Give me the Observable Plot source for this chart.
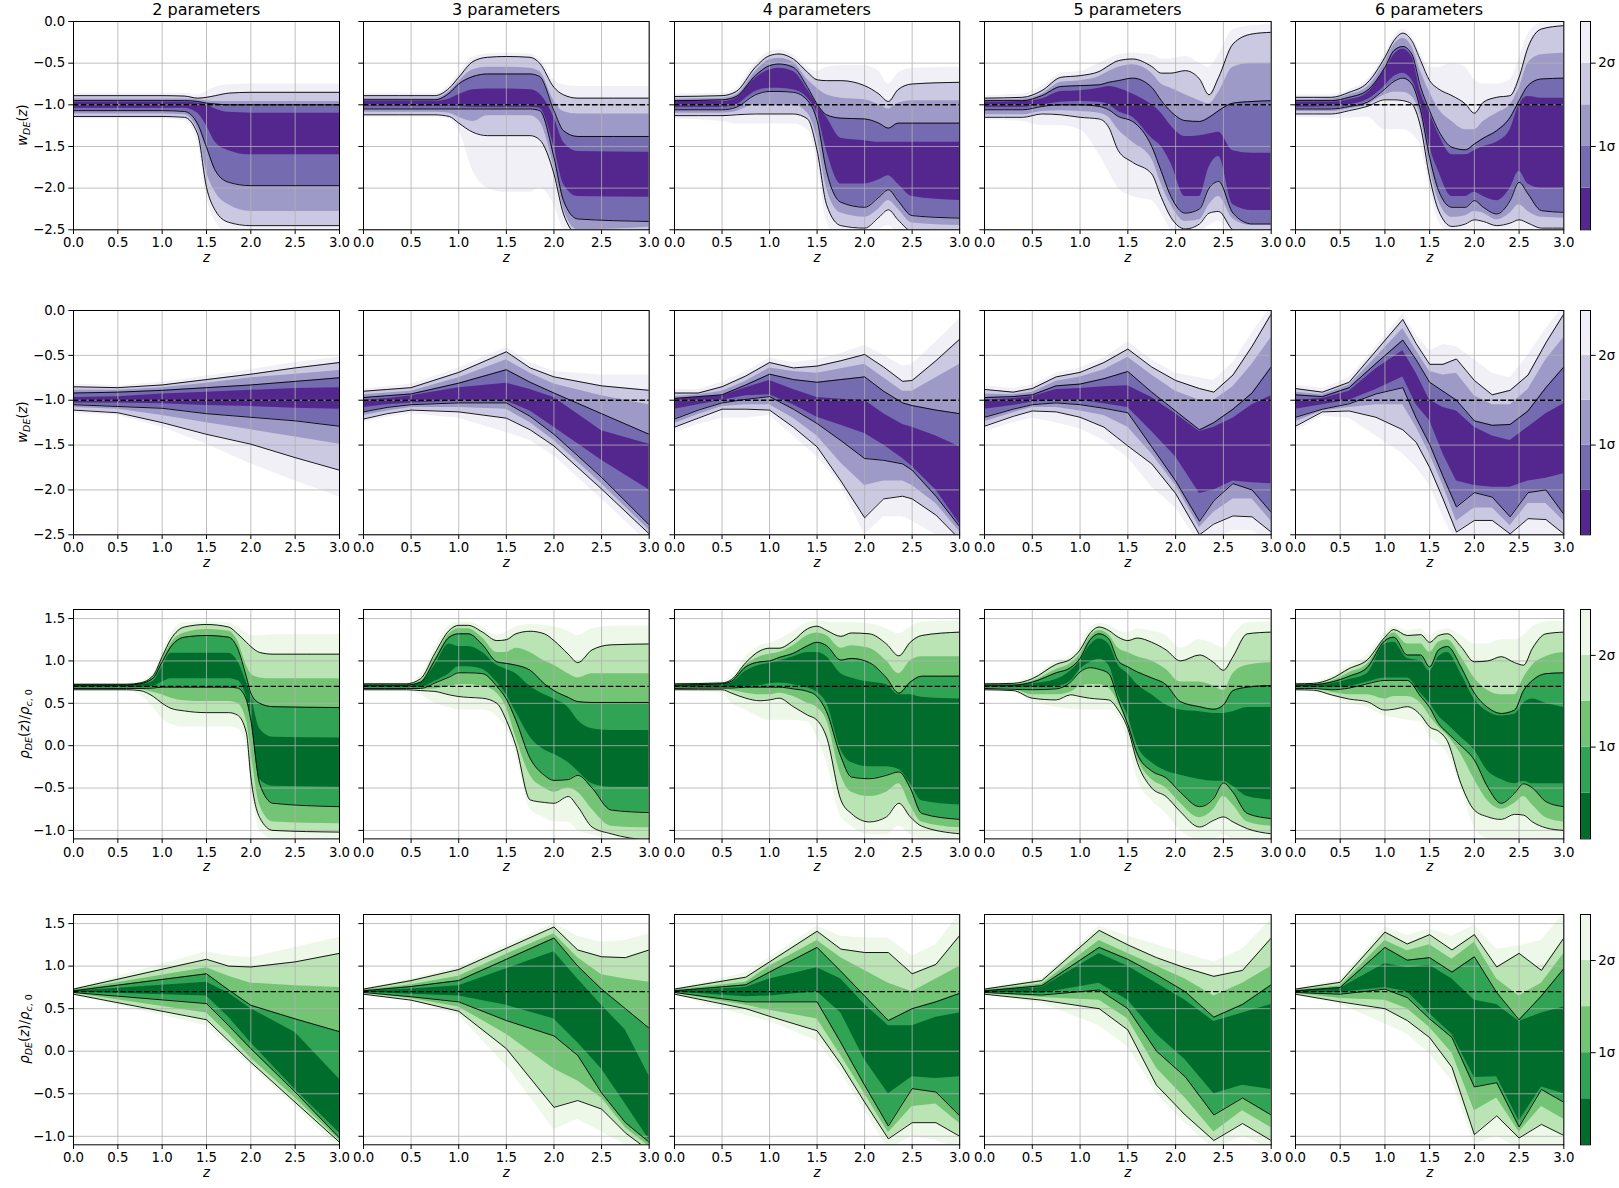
<!DOCTYPE html>
<html><head><meta charset="utf-8">
<script src="https://cdn.jsdelivr.net/npm/d3@7"></script>
<script src="https://cdn.jsdelivr.net/npm/@observablehq/plot@0.6"></script>
<style>
body{margin:0;background:#fff;}
#fig{position:relative;width:1619px;height:1188px;font-family:"DejaVu Sans",sans-serif;color:#000;overflow:hidden;}
.pos{position:absolute;}
.pos svg{max-width:none !important;}
.title{font-size:16px;white-space:nowrap;transform:translate(-50%,-50%);}
.ylab{font-size:13.33px;white-space:nowrap;transform:translate(-50%,-50%) rotate(-90deg);}
.ylab sub{font-size:9.5px;vertical-align:-3px;}
</style>
</head><body><div id="fig"></div>
<script>
// ---------------- data ----------------
const paramCounts = [2, 3, 4, 5, 6];
const zTicks = [0, 0.5, 1, 1.5, 2, 2.5, 3];
const wTicks = [0, -0.5, -1, -1.5, -2, -2.5];
const rhoTicks = [1.5, 1, 0.5, 0, -0.5, -1];
const sigmaLevels = [0, 0.5, 1, 1.5, 2, 2.5];
const sigmaTicks = [1, 2];
const wReference = -1;
const rhoReference = 0.7;
const purples = ["#54278f", "#756bb1", "#9e9ac8", "#cbc9e2", "#f2f0f7"];
const greens = ["#006d2c", "#31a354", "#74c476", "#bae4b3", "#edf8e9"];

// rows: [z, lo2.5σ, lo2σ, lo1.5σ, lo1σ, lo0.5σ, hi0.5σ, hi1σ, hi1.5σ, hi2σ, hi2.5σ]
const wStep2 = [
[0,-1.17,-1.14,-1.11,-1.07,-1.04,-0.97,-0.95,-0.93,-0.89,-0.86],
[1.0,-1.17,-1.14,-1.11,-1.07,-1.04,-0.97,-0.95,-0.93,-0.89,-0.86],
[1.25,-1.19,-1.15,-1.12,-1.08,-1.04,-0.97,-0.95,-0.93,-0.895,-0.86],
[1.4,-1.45,-1.35,-1.3,-1.23,-1.1,-0.98,-0.96,-0.94,-0.92,-0.88],
[1.5,-2.1,-1.99,-1.8,-1.51,-1.25,-1.0,-0.98,-0.95,-0.91,-0.84],
[1.6,-2.4,-2.27,-2.05,-1.79,-1.45,-1.05,-0.99,-0.96,-0.89,-0.79],
[1.75,-2.55,-2.41,-2.2,-1.93,-1.55,-1.09,-1.0,-0.96,-0.86,-0.76],
[2.0,-2.6,-2.45,-2.28,-1.97,-1.6,-1.1,-1.0,-0.96,-0.85,-0.75],
[3.0,-2.6,-2.45,-2.28,-1.97,-1.6,-1.1,-1.0,-0.96,-0.85,-0.75]];
const wStep3 = [
[0,-1.15,-1.12,-1.09,-1.05,-1.02,-0.96,-0.94,-0.92,-0.89,-0.86],
[0.75,-1.15,-1.12,-1.09,-1.05,-1.02,-0.96,-0.94,-0.92,-0.89,-0.86],
[0.9,-1.17,-1.14,-1.1,-1.05,-1.02,-0.93,-0.86,-0.84,-0.8,-0.76],
[1.0,-1.3,-1.22,-1.15,-1.05,-1.02,-0.88,-0.75,-0.72,-0.67,-0.62],
[1.15,-1.8,-1.33,-1.2,-1.05,-1.03,-0.82,-0.66,-0.58,-0.48,-0.43],
[1.3,-2.0,-1.37,-1.13,-1.05,-1.03,-0.81,-0.63,-0.55,-0.43,-0.39],
[1.5,-2.05,-1.37,-1.13,-1.05,-1.03,-0.81,-0.63,-0.55,-0.42,-0.38],
[1.75,-2.05,-1.37,-1.13,-1.05,-1.03,-0.82,-0.63,-0.56,-0.43,-0.39],
[1.85,-2.0,-1.42,-1.2,-1.07,-1.04,-0.87,-0.66,-0.6,-0.5,-0.45],
[2.0,-2.2,-1.83,-1.75,-1.63,-1.5,-1.15,-1.07,-0.95,-0.79,-0.7],
[2.1,-2.5,-2.31,-2.25,-2.15,-1.95,-1.45,-1.31,-1.08,-0.88,-0.76],
[2.25,-2.6,-2.55,-2.5,-2.37,-2.1,-1.56,-1.38,-1.11,-0.92,-0.78],
[3.0,-2.6,-2.55,-2.47,-2.4,-2.11,-1.57,-1.38,-1.11,-0.92,-0.78]];
const wStep4 = [
[0,-1.17,-1.13,-1.1,-1.06,-1.03,-0.96,-0.95,-0.93,-0.9,-0.87],
[0.5,-1.2,-1.13,-1.1,-1.06,-1.03,-0.96,-0.94,-0.92,-0.89,-0.86],
[0.65,-1.23,-1.12,-1.08,-1.03,-1.0,-0.92,-0.9,-0.88,-0.84,-0.8],
[0.85,-1.23,-1.11,-1.0,-0.88,-0.84,-0.68,-0.65,-0.6,-0.55,-0.5],
[1.0,-1.23,-1.11,-1.0,-0.84,-0.8,-0.58,-0.53,-0.46,-0.41,-0.36],
[1.1,-1.23,-1.11,-1.0,-0.84,-0.8,-0.56,-0.51,-0.44,-0.39,-0.34],
[1.25,-1.23,-1.11,-1.0,-0.85,-0.82,-0.6,-0.55,-0.49,-0.45,-0.4],
[1.4,-1.3,-1.17,-1.1,-0.95,-0.92,-0.82,-0.79,-0.7,-0.61,-0.55],
[1.5,-1.7,-1.55,-1.4,-1.19,-1.1,-1.0,-0.99,-0.8,-0.7,-0.6],
[1.6,-2.4,-2.2,-2.0,-1.8,-1.55,-1.15,-1.12,-0.88,-0.71,-0.55],
[1.75,-2.6,-2.45,-2.3,-2.17,-1.95,-1.4,-1.16,-0.92,-0.71,-0.53],
[2.0,-2.6,-2.48,-2.35,-2.23,-1.95,-1.43,-1.17,-0.94,-0.77,-0.53],
[2.15,-2.5,-2.35,-2.25,-2.11,-1.9,-1.45,-1.22,-1.0,-0.87,-0.6],
[2.25,-2.45,-2.26,-2.15,-2.02,-1.85,-1.45,-1.28,-1.05,-0.96,-0.75],
[2.35,-2.55,-2.38,-2.25,-2.15,-1.95,-1.45,-1.22,-0.98,-0.82,-0.62],
[2.5,-2.6,-2.52,-2.42,-2.33,-2.1,-1.45,-1.22,-0.95,-0.75,-0.56],
[3.0,-2.6,-2.55,-2.45,-2.36,-2.15,-1.45,-1.22,-0.95,-0.73,-0.55]];
const wStep5 = [
[0,-1.18,-1.15,-1.12,-1.06,-1.03,-0.97,-0.95,-0.94,-0.92,-0.89],
[0.4,-1.2,-1.15,-1.12,-1.06,-1.03,-0.96,-0.95,-0.93,-0.91,-0.87],
[0.6,-1.25,-1.11,-1.08,-1.02,-1.0,-0.93,-0.89,-0.87,-0.83,-0.78],
[0.8,-1.25,-1.12,-1.07,-1.0,-0.97,-0.84,-0.78,-0.73,-0.67,-0.62],
[1.0,-1.3,-1.15,-1.08,-1.0,-0.96,-0.83,-0.77,-0.71,-0.65,-0.6],
[1.2,-1.6,-1.17,-1.1,-1.02,-0.97,-0.8,-0.76,-0.66,-0.6,-0.5],
[1.3,-1.8,-1.27,-1.15,-1.06,-1.0,-0.78,-0.73,-0.6,-0.53,-0.45],
[1.4,-2.0,-1.55,-1.3,-1.14,-1.08,-0.8,-0.71,-0.55,-0.47,-0.4],
[1.55,-2.1,-1.69,-1.45,-1.2,-1.15,-0.87,-0.68,-0.52,-0.45,-0.38],
[1.75,-2.15,-1.83,-1.65,-1.5,-1.4,-1.0,-0.79,-0.62,-0.54,-0.4],
[1.85,-2.3,-2.11,-1.95,-1.8,-1.5,-1.1,-0.95,-0.75,-0.62,-0.45],
[1.95,-2.5,-2.35,-2.2,-2.1,-1.7,-1.25,-1.08,-0.8,-0.62,-0.45],
[2.1,-2.6,-2.49,-2.4,-2.3,-2.1,-1.38,-1.19,-0.88,-0.59,-0.42],
[2.25,-2.55,-2.43,-2.38,-2.25,-2.1,-1.37,-1.2,-0.95,-0.69,-0.5],
[2.35,-2.45,-2.3,-2.2,-2.0,-1.75,-1.35,-1.15,-0.99,-0.88,-0.55],
[2.45,-2.4,-2.28,-2.1,-1.92,-1.62,-1.33,-1.07,-0.85,-0.67,-0.4],
[2.6,-2.6,-2.5,-2.37,-2.3,-2.2,-1.55,-0.98,-0.55,-0.27,-0.1],
[2.8,-2.65,-2.55,-2.45,-2.43,-2.27,-1.58,-0.96,-0.5,-0.15,-0.05],
[3.0,-2.65,-2.55,-2.45,-2.43,-2.27,-1.58,-0.95,-0.5,-0.13,-0.04]];
const wStep6 = [
[0,-1.15,-1.11,-1.08,-1.05,-1.03,-0.97,-0.95,-0.94,-0.91,-0.88],
[0.4,-1.16,-1.11,-1.08,-1.05,-1.02,-0.97,-0.95,-0.93,-0.91,-0.88],
[0.6,-1.16,-1.07,-1.05,-1.02,-1.0,-0.94,-0.91,-0.88,-0.85,-0.82],
[0.8,-1.15,-1.02,-1.0,-0.97,-0.94,-0.86,-0.83,-0.79,-0.74,-0.7],
[1.0,-1.3,-0.94,-0.88,-0.81,-0.77,-0.58,-0.55,-0.48,-0.43,-0.38],
[1.1,-1.3,-0.94,-0.85,-0.72,-0.66,-0.4,-0.35,-0.28,-0.23,-0.18],
[1.2,-1.3,-0.95,-0.85,-0.68,-0.62,-0.33,-0.3,-0.2,-0.14,-0.09],
[1.3,-1.35,-0.99,-0.9,-0.75,-0.7,-0.42,-0.39,-0.3,-0.23,-0.17],
[1.4,-1.5,-1.27,-1.15,-1.07,-1.0,-0.85,-0.79,-0.6,-0.47,-0.38],
[1.5,-2.0,-1.87,-1.75,-1.63,-1.5,-1.1,-1.07,-0.85,-0.71,-0.55],
[1.6,-2.4,-2.27,-2.15,-2.03,-1.8,-1.35,-1.31,-1.05,-0.81,-0.55],
[1.75,-2.55,-2.46,-2.35,-2.23,-2.1,-1.6,-1.51,-1.2,-0.89,-0.5],
[1.9,-2.55,-2.43,-2.33,-2.23,-2.1,-1.6,-1.54,-1.3,-0.99,-0.55],
[2.0,-2.5,-2.38,-2.28,-2.15,-2.05,-1.55,-1.47,-1.3,-1.1,-0.7],
[2.1,-2.5,-2.4,-2.3,-2.23,-2.1,-1.5,-1.4,-1.2,-0.97,-0.75],
[2.25,-2.55,-2.45,-2.38,-2.31,-2.15,-1.45,-1.31,-1.1,-0.91,-0.75],
[2.4,-2.55,-2.42,-2.3,-2.15,-2.0,-1.3,-1.15,-1.0,-0.89,-0.7],
[2.5,-2.5,-2.38,-2.2,-1.93,-1.8,-1.0,-0.95,-0.8,-0.67,-0.45],
[2.6,-2.55,-2.42,-2.28,-2.07,-1.95,-0.9,-0.77,-0.5,-0.31,-0.15],
[2.75,-2.6,-2.48,-2.35,-2.27,-2.0,-0.92,-0.69,-0.4,-0.09,-0.02],
[3.0,-2.6,-2.48,-2.36,-2.29,-2.0,-0.92,-0.68,-0.38,-0.05,0]];

const wLinear2 = [
[0,-1.15,-1.11,-1.08,-1.05,-1.03,-0.97,-0.92,-0.89,-0.85,-0.82],
[0.5,-1.17,-1.14,-1.1,-1.07,-1.03,-0.96,-0.91,-0.89,-0.86,-0.84],
[1.0,-1.3,-1.25,-1.17,-1.09,-1.04,-0.93,-0.89,-0.86,-0.83,-0.8],
[1.5,-1.49,-1.38,-1.25,-1.15,-1.06,-0.91,-0.86,-0.81,-0.77,-0.73],
[2.0,-1.71,-1.49,-1.33,-1.19,-1.07,-0.89,-0.83,-0.75,-0.71,-0.66],
[2.5,-1.9,-1.64,-1.41,-1.23,-1.09,-0.87,-0.79,-0.71,-0.64,-0.58],
[3.0,-2.08,-1.78,-1.49,-1.29,-1.1,-0.86,-0.75,-0.67,-0.58,-0.52]];
const wLinear3 = [
[0,-1.25,-1.21,-1.17,-1.13,-1.08,-1.0,-0.97,-0.94,-0.9,-0.87],
[0.25,-1.19,-1.15,-1.12,-1.08,-1.05,-0.98,-0.95,-0.92,-0.88,-0.85],
[0.5,-1.15,-1.11,-1.08,-1.05,-1.03,-0.95,-0.93,-0.9,-0.86,-0.82],
[1.0,-1.2,-1.13,-1.08,-1.03,-1.01,-0.86,-0.81,-0.75,-0.69,-0.64],
[1.5,-1.36,-1.2,-1.1,-1.03,-1.01,-0.81,-0.66,-0.55,-0.46,-0.41],
[1.75,-1.45,-1.33,-1.25,-1.18,-1.12,-0.88,-0.8,-0.7,-0.64,-0.58],
[2.0,-1.62,-1.51,-1.45,-1.38,-1.3,-0.97,-0.92,-0.82,-0.74,-0.68],
[2.5,-2.1,-1.99,-1.93,-1.86,-1.67,-1.34,-1.15,-0.95,-0.84,-0.72],
[3.0,-2.6,-2.49,-2.45,-2.39,-2.0,-1.49,-1.38,-1.05,-0.89,-0.72]];
const wLinear4 = [
[0,-1.36,-1.3,-1.26,-1.21,-1.1,-0.99,-0.98,-0.96,-0.92,-0.88],
[0.25,-1.27,-1.2,-1.16,-1.11,-1.05,-0.97,-0.96,-0.94,-0.92,-0.88],
[0.5,-1.2,-1.1,-1.07,-1.03,-1.0,-0.95,-0.94,-0.9,-0.85,-0.8],
[0.75,-1.2,-1.1,-1.05,-0.99,-0.95,-0.86,-0.83,-0.79,-0.73,-0.68],
[1.0,-1.17,-1.11,-1.05,-0.96,-0.94,-0.78,-0.71,-0.64,-0.58,-0.53],
[1.25,-1.4,-1.3,-1.2,-1.1,-1.05,-0.88,-0.77,-0.68,-0.64,-0.58],
[1.5,-1.63,-1.52,-1.4,-1.26,-1.19,-0.97,-0.8,-0.7,-0.62,-0.55],
[1.75,-1.95,-1.9,-1.7,-1.45,-1.28,-0.99,-0.77,-0.65,-0.56,-0.48],
[2.0,-2.5,-2.31,-1.95,-1.65,-1.37,-1.0,-0.74,-0.6,-0.49,-0.39],
[2.2,-2.3,-2.1,-1.9,-1.67,-1.5,-1.15,-0.9,-0.75,-0.63,-0.5],
[2.4,-2.3,-2.07,-1.9,-1.71,-1.65,-1.27,-1.03,-0.9,-0.79,-0.62],
[2.5,-2.35,-2.1,-1.95,-1.78,-1.74,-1.3,-1.06,-0.9,-0.78,-0.6],
[2.75,-2.5,-2.28,-2.15,-2.07,-2.0,-1.4,-1.11,-0.75,-0.56,-0.35],
[3.0,-2.65,-2.55,-2.47,-2.41,-2.38,-1.52,-1.15,-0.6,-0.32,-0.09]];
const wLinear5 = [
[0,-1.35,-1.29,-1.24,-1.19,-1.1,-1.0,-0.97,-0.93,-0.88,-0.84],
[0.3,-1.25,-1.18,-1.14,-1.1,-1.06,-0.98,-0.96,-0.94,-0.91,-0.87],
[0.5,-1.2,-1.12,-1.08,-1.05,-1.02,-0.96,-0.94,-0.91,-0.87,-0.83],
[0.75,-1.25,-1.13,-1.08,-1.03,-1.0,-0.88,-0.84,-0.79,-0.74,-0.7],
[1.0,-1.32,-1.19,-1.12,-1.05,-1.0,-0.87,-0.82,-0.74,-0.69,-0.64],
[1.25,-1.45,-1.3,-1.17,-1.09,-1.04,-0.85,-0.76,-0.66,-0.58,-0.53],
[1.5,-1.64,-1.51,-1.3,-1.14,-1.08,-0.84,-0.68,-0.52,-0.43,-0.35],
[1.75,-1.97,-1.71,-1.6,-1.52,-1.35,-0.97,-0.91,-0.72,-0.63,-0.55],
[2.0,-2.2,-2.04,-1.95,-1.9,-1.63,-1.15,-1.12,-0.9,-0.78,-0.7],
[2.25,-2.6,-2.5,-2.42,-2.35,-2.04,-1.35,-1.33,-1.0,-0.87,-0.75],
[2.4,-2.55,-2.38,-2.25,-2.12,-2.0,-1.3,-1.25,-1.0,-0.91,-0.78],
[2.6,-2.45,-2.29,-2.1,-1.93,-1.9,-1.2,-1.1,-0.85,-0.72,-0.58],
[2.8,-2.45,-2.3,-2.1,-2.0,-1.92,-1.05,-0.92,-0.6,-0.4,-0.25],
[3.0,-2.6,-2.47,-2.35,-2.25,-1.93,-0.95,-0.63,-0.3,-0.04,0.05]];
const wLinear6 = [
[0,-1.35,-1.29,-1.24,-1.19,-1.1,-1.0,-0.94,-0.91,-0.87,-0.83],
[0.3,-1.18,-1.13,-1.12,-1.1,-1.05,-0.98,-0.96,-0.94,-0.91,-0.87],
[0.6,-1.2,-1.12,-1.08,-1.04,-1.0,-0.9,-0.86,-0.83,-0.8,-0.75],
[0.9,-1.4,-1.19,-1.05,-0.93,-0.88,-0.65,-0.59,-0.52,-0.45,-0.4],
[1.2,-1.6,-1.33,-1.05,-0.86,-0.74,-0.45,-0.33,-0.2,-0.1,-0.04],
[1.35,-1.75,-1.47,-1.3,-1.2,-1.05,-0.7,-0.55,-0.45,-0.37,-0.28],
[1.5,-1.95,-1.75,-1.6,-1.49,-1.23,-1.0,-0.8,-0.68,-0.6,-0.45],
[1.65,-2.3,-2.1,-1.95,-1.85,-1.6,-1.08,-0.9,-0.72,-0.6,-0.38],
[1.8,-2.6,-2.47,-2.35,-2.19,-1.9,-1.12,-1.0,-0.7,-0.54,-0.4],
[2.0,-2.5,-2.34,-2.2,-2.03,-1.95,-1.3,-1.23,-0.95,-0.78,-0.55],
[2.2,-2.5,-2.34,-2.2,-2.08,-1.97,-1.4,-1.28,-1.05,-0.94,-0.7],
[2.4,-2.6,-2.49,-2.4,-2.3,-1.97,-1.45,-1.27,-1.05,-0.89,-0.75],
[2.6,-2.5,-2.32,-2.15,-2.03,-1.9,-1.3,-1.12,-0.88,-0.72,-0.5],
[2.8,-2.5,-2.33,-2.15,-2.0,-1.87,-1.15,-0.86,-0.55,-0.36,-0.2],
[3.0,-2.6,-2.49,-2.35,-2.27,-1.82,-1.04,-0.63,-0.3,-0.04,0.05]];

const rhoStep2 = [
[0,0.645,0.66,0.665,0.675,0.69,0.71,0.715,0.72,0.725,0.735],
[0.6,0.645,0.66,0.665,0.675,0.69,0.71,0.715,0.72,0.725,0.735],
[0.75,0.6,0.65,0.66,0.675,0.69,0.72,0.73,0.735,0.74,0.76],
[0.9,0.45,0.58,0.63,0.68,0.7,0.76,0.8,0.81,0.83,0.86],
[1.0,0.32,0.5,0.6,0.69,0.75,0.93,0.99,1.02,1.05,1.1],
[1.1,0.25,0.44,0.56,0.69,0.79,1.09,1.17,1.21,1.26,1.32],
[1.25,0.22,0.41,0.53,0.69,0.79,1.09,1.28,1.33,1.4,1.45],
[1.5,0.22,0.39,0.52,0.69,0.79,1.09,1.3,1.37,1.43,1.46],
[1.75,0.22,0.39,0.52,0.69,0.79,1.09,1.28,1.35,1.4,1.45],
[1.85,0.2,0.36,0.5,0.68,0.77,1.0,1.15,1.24,1.32,1.4],
[1.95,0.0,0.15,0.3,0.54,0.58,0.75,0.81,0.95,1.22,1.33],
[2.0,-0.45,-0.37,-0.05,0.3,0.35,0.6,0.62,0.85,1.17,1.3],
[2.1,-1.0,-0.85,-0.7,-0.45,-0.4,0.2,0.5,0.8,1.1,1.3],
[2.25,-1.1,-1.0,-0.9,-0.68,-0.48,0.1,0.46,0.79,1.08,1.31],
[3.0,-1.12,-1.02,-0.92,-0.72,-0.49,0.09,0.45,0.79,1.08,1.31]];
const rhoStep3 = [
[0,0.645,0.66,0.665,0.675,0.69,0.71,0.715,0.72,0.73,0.74],
[0.45,0.645,0.66,0.665,0.675,0.69,0.71,0.715,0.72,0.73,0.74],
[0.6,0.6,0.65,0.665,0.675,0.69,0.74,0.75,0.76,0.79,0.83],
[0.75,0.5,0.64,0.67,0.74,0.76,0.95,1.01,1.04,1.09,1.15],
[0.9,0.45,0.6,0.7,0.81,0.85,1.2,1.28,1.32,1.36,1.42],
[1.0,0.42,0.58,0.72,0.86,0.93,1.17,1.32,1.38,1.42,1.46],
[1.1,0.42,0.57,0.72,0.86,0.93,1.17,1.32,1.38,1.42,1.46],
[1.25,0.42,0.56,0.7,0.85,0.9,1.1,1.19,1.27,1.34,1.4],
[1.4,0.35,0.5,0.62,0.7,0.75,0.95,0.99,1.1,1.24,1.3],
[1.5,0.2,0.3,0.45,0.55,0.6,0.9,0.97,1.1,1.25,1.34],
[1.6,-0.1,0.0,0.1,0.3,0.4,0.85,0.95,1.15,1.32,1.4],
[1.75,-0.75,-0.64,-0.35,-0.15,0.1,0.7,0.89,1.1,1.35,1.43],
[1.9,-0.85,-0.67,-0.5,-0.35,-0.05,0.6,0.73,1.0,1.32,1.42],
[2.0,-0.9,-0.68,-0.55,-0.41,-0.1,0.55,0.65,0.95,1.24,1.4],
[2.15,-0.9,-0.6,-0.5,-0.4,-0.2,0.45,0.57,0.85,1.08,1.35],
[2.25,-1.0,-0.72,-0.55,-0.35,-0.3,0.3,0.52,0.8,0.98,1.3],
[2.4,-1.05,-0.96,-0.75,-0.5,-0.45,0.2,0.51,0.85,1.13,1.38],
[2.6,-1.1,-1.04,-0.95,-0.76,-0.49,0.18,0.51,0.85,1.19,1.41],
[3.0,-1.1,-1.12,-0.97,-0.79,-0.49,0.18,0.51,0.85,1.2,1.41]];
const rhoStep4 = [
[0,0.645,0.66,0.665,0.675,0.69,0.71,0.715,0.72,0.73,0.74],
[0.5,0.62,0.66,0.665,0.68,0.69,0.72,0.73,0.73,0.74,0.76],
[0.6,0.5,0.62,0.65,0.68,0.69,0.74,0.76,0.76,0.78,0.82],
[0.75,0.42,0.56,0.62,0.69,0.7,0.88,0.93,0.95,0.98,1.05],
[0.9,0.33,0.53,0.6,0.69,0.71,0.95,0.99,1.05,1.12,1.18],
[1.0,0.3,0.54,0.6,0.69,0.73,0.97,1.0,1.08,1.15,1.21],
[1.1,0.3,0.56,0.62,0.69,0.74,1.0,1.04,1.1,1.15,1.25],
[1.25,0.3,0.46,0.58,0.67,0.72,1.05,1.09,1.18,1.24,1.35],
[1.4,0.28,0.36,0.5,0.64,0.68,1.1,1.18,1.3,1.38,1.45],
[1.5,0.1,0.3,0.45,0.58,0.63,1.1,1.22,1.33,1.41,1.47],
[1.6,-0.2,0.1,0.3,0.4,0.5,1.05,1.18,1.3,1.36,1.46],
[1.75,-0.84,-0.64,-0.35,-0.13,-0.05,0.85,1.01,1.15,1.29,1.45],
[1.86,-0.95,-0.8,-0.55,-0.37,-0.2,0.8,1.03,1.18,1.33,1.45],
[2.05,-1.05,-0.9,-0.6,-0.39,-0.25,0.75,0.98,1.15,1.32,1.44],
[2.23,-1.05,-0.84,-0.55,-0.35,-0.25,0.72,0.8,1.0,1.2,1.38],
[2.36,-0.95,-0.68,-0.45,-0.31,-0.28,0.6,0.62,0.85,1.06,1.32],
[2.48,-1.05,-0.84,-0.7,-0.5,-0.45,0.6,0.75,1.0,1.22,1.4],
[2.6,-1.1,-0.95,-0.9,-0.8,-0.65,0.57,0.82,1.05,1.3,1.46],
[3.0,-1.1,-1.04,-0.97,-0.87,-0.7,0.55,0.82,1.05,1.34,1.47]];
const rhoStep5 = [
[0,0.645,0.66,0.665,0.675,0.69,0.71,0.715,0.72,0.73,0.74],
[0.3,0.63,0.65,0.66,0.665,0.69,0.71,0.715,0.72,0.735,0.75],
[0.5,0.52,0.56,0.6,0.66,0.69,0.73,0.75,0.76,0.79,0.82],
[0.75,0.45,0.54,0.6,0.67,0.7,0.78,0.86,0.9,0.96,1.0],
[0.9,0.43,0.6,0.63,0.75,0.76,0.88,0.92,0.97,1.02,1.06],
[1.0,0.42,0.58,0.7,0.87,0.9,1.0,1.03,1.08,1.13,1.18],
[1.1,0.42,0.56,0.72,0.92,0.98,1.18,1.24,1.28,1.32,1.38],
[1.2,0.42,0.55,0.72,0.9,1.02,1.26,1.32,1.36,1.4,1.44],
[1.3,0.42,0.54,0.68,0.85,0.95,1.2,1.26,1.31,1.36,1.42],
[1.4,0.35,0.42,0.5,0.54,0.6,0.95,1.0,1.15,1.28,1.36],
[1.5,0.05,0.2,0.23,0.25,0.35,0.85,0.93,1.1,1.24,1.33],
[1.6,-0.4,-0.2,-0.15,-0.1,0.0,0.72,0.87,1.05,1.27,1.38],
[1.75,-0.65,-0.5,-0.4,-0.3,-0.2,0.6,0.8,1.0,1.22,1.35],
[1.9,-0.8,-0.6,-0.5,-0.38,-0.3,0.48,0.72,0.9,1.13,1.3],
[2.05,-1.0,-0.78,-0.68,-0.55,-0.35,0.42,0.52,0.75,1.0,1.15],
[2.25,-1.1,-0.96,-0.85,-0.72,-0.4,0.4,0.46,0.75,1.07,1.25],
[2.4,-1.1,-0.88,-0.75,-0.62,-0.42,0.38,0.43,0.7,0.98,1.2],
[2.5,-1.05,-0.84,-0.6,-0.44,-0.42,0.38,0.48,0.65,0.89,1.15],
[2.6,-1.1,-0.9,-0.7,-0.55,-0.48,0.4,0.65,0.85,1.05,1.3],
[2.75,-1.1,-0.98,-0.9,-0.8,-0.6,0.45,0.69,0.95,1.32,1.45],
[3.0,-1.12,-1.04,-0.95,-0.86,-0.64,0.45,0.71,0.98,1.34,1.46]];
const rhoStep6 = [
[0,0.645,0.66,0.665,0.675,0.69,0.71,0.715,0.72,0.73,0.74],
[0.2,0.64,0.655,0.665,0.675,0.69,0.71,0.72,0.725,0.735,0.75],
[0.4,0.58,0.6,0.63,0.66,0.69,0.73,0.75,0.76,0.79,0.82],
[0.6,0.5,0.55,0.6,0.68,0.7,0.78,0.82,0.86,0.91,0.95],
[0.8,0.45,0.52,0.6,0.73,0.75,0.85,0.92,0.96,1.01,1.07],
[1.0,0.35,0.42,0.55,0.77,0.8,1.2,1.24,1.26,1.28,1.33],
[1.1,0.33,0.43,0.58,0.77,0.8,1.22,1.28,1.33,1.37,1.41],
[1.25,0.3,0.46,0.58,0.77,0.8,1.03,1.07,1.2,1.3,1.36],
[1.4,0.28,0.36,0.5,0.58,0.62,1.0,1.07,1.2,1.31,1.38],
[1.5,0.1,0.22,0.35,0.45,0.5,0.88,0.93,1.1,1.22,1.3],
[1.6,0.02,0.17,0.22,0.26,0.35,1.05,1.13,1.22,1.3,1.36],
[1.7,-0.1,0.05,0.12,0.15,0.25,1.1,1.17,1.25,1.32,1.38],
[1.85,-0.5,-0.45,-0.1,0.0,0.1,0.85,0.93,1.05,1.17,1.3],
[2.0,-0.96,-0.76,-0.4,-0.17,-0.05,0.55,0.62,0.8,0.99,1.2],
[2.15,-1.1,-0.84,-0.65,-0.49,-0.3,0.4,0.45,0.65,1.0,1.2],
[2.3,-1.12,-0.87,-0.75,-0.68,-0.4,0.35,0.38,0.6,1.05,1.25],
[2.45,-1.1,-0.81,-0.68,-0.56,-0.45,0.37,0.42,0.6,0.98,1.25],
[2.55,-1.1,-0.82,-0.6,-0.45,-0.42,0.5,0.65,0.8,0.95,1.3],
[2.65,-1.1,-0.9,-0.7,-0.5,-0.45,0.55,0.77,0.95,1.15,1.4],
[2.8,-1.12,-0.97,-0.85,-0.66,-0.45,0.5,0.85,1.05,1.32,1.46],
[3.0,-1.12,-1.0,-0.9,-0.72,-0.45,0.45,0.86,1.1,1.34,1.47]];

const rhoLinear2 = [
[0,0.665,0.67,0.68,0.69,0.695,0.705,0.71,0.72,0.73,0.735],
[1.5,0.3,0.37,0.45,0.56,0.65,0.81,0.91,0.98,1.08,1.17],
[1.75,0.06,0.12,0.2,0.3,0.4,0.68,0.72,0.88,1.0,1.12],
[2.0,-0.17,-0.13,-0.08,0.03,0.1,0.5,0.54,0.8,0.99,1.1],
[2.5,-0.65,-0.6,-0.55,-0.48,-0.45,0.22,0.38,0.77,1.05,1.22],
[3.0,-1.15,-1.07,-1.05,-1.02,-0.96,-0.33,0.23,0.75,1.15,1.34]];
const rhoLinear3 = [
[0,0.665,0.67,0.68,0.69,0.695,0.705,0.71,0.72,0.73,0.735],
[0.5,0.6,0.6,0.62,0.64,0.67,0.73,0.76,0.78,0.83,0.85],
[1.0,0.42,0.47,0.52,0.58,0.65,0.77,0.83,0.88,0.96,0.99],
[1.5,-0.17,0.03,0.2,0.36,0.54,0.97,1.08,1.14,1.21,1.25],
[2.0,-0.92,-0.66,-0.21,0.18,0.38,1.17,1.33,1.38,1.46,1.5],
[2.25,-0.8,-0.58,-0.35,-0.05,0.1,0.85,1.0,1.1,1.19,1.35],
[2.5,-0.95,-0.68,-0.55,-0.49,-0.21,0.54,0.73,0.9,1.11,1.28],
[2.75,-1.1,-0.96,-0.9,-0.84,-0.62,0.25,0.5,0.85,1.1,1.3],
[3.0,-1.2,-1.17,-1.12,-1.07,-1.04,-0.29,0.27,0.81,1.19,1.38]];
const rhoLinear4 = [
[0,0.665,0.67,0.68,0.69,0.695,0.705,0.71,0.72,0.73,0.735],
[0.75,0.42,0.5,0.54,0.58,0.64,0.75,0.78,0.81,0.87,0.92],
[1.0,0.35,0.41,0.48,0.58,0.65,0.85,0.93,1.0,1.05,1.1],
[1.5,0.12,0.24,0.38,0.58,0.7,0.98,1.22,1.3,1.41,1.47],
[1.75,-0.25,-0.15,-0.05,0.1,0.45,0.85,0.94,1.1,1.2,1.35],
[2.0,-0.7,-0.6,-0.5,-0.4,-0.1,0.55,0.65,0.95,1.16,1.33],
[2.25,-1.15,-1.03,-0.96,-0.88,-0.5,0.3,0.36,0.8,1.16,1.33],
[2.5,-1.0,-0.84,-0.65,-0.44,-0.3,0.3,0.5,0.7,0.91,1.12],
[2.75,-1.05,-0.84,-0.62,-0.48,-0.32,0.4,0.58,0.85,1.02,1.25],
[3.0,-1.15,-1.0,-0.85,-0.76,-0.3,0.45,0.68,1.0,1.36,1.62]];
const rhoLinear5 = [
[0,0.665,0.67,0.68,0.69,0.695,0.705,0.71,0.72,0.73,0.735],
[0.6,0.56,0.6,0.63,0.66,0.68,0.75,0.77,0.79,0.83,0.86],
[1.2,0.3,0.5,0.6,0.72,0.8,1.15,1.22,1.3,1.42,1.47],
[1.5,0.05,0.25,0.38,0.5,0.6,1.0,1.08,1.15,1.25,1.35],
[1.8,-0.5,-0.4,-0.2,0.0,0.2,0.8,0.9,1.0,1.1,1.25],
[2.1,-0.85,-0.75,-0.55,-0.3,-0.1,0.6,0.7,0.85,0.98,1.15],
[2.4,-1.15,-1.05,-0.95,-0.75,-0.5,0.35,0.4,0.65,0.88,1.05],
[2.7,-1.0,-0.85,-0.7,-0.55,-0.4,0.45,0.55,0.8,0.95,1.2],
[3.0,-1.15,-1.05,-0.9,-0.75,-0.45,0.55,0.78,1.0,1.33,1.55]];
const rhoLinear6 = [
[0,0.665,0.67,0.68,0.69,0.695,0.705,0.71,0.72,0.73,0.735],
[0.5,0.55,0.58,0.62,0.67,0.69,0.74,0.75,0.77,0.81,0.84],
[1.0,0.32,0.5,0.6,0.73,0.75,1.03,1.22,1.3,1.4,1.46],
[1.25,0.2,0.36,0.5,0.63,0.7,0.98,1.07,1.18,1.26,1.36],
[1.5,-0.03,0.16,0.28,0.38,0.44,1.01,1.1,1.25,1.37,1.44],
[1.75,-0.35,-0.19,-0.02,0.16,0.2,0.85,0.93,1.08,1.19,1.35],
[2.0,-1.1,-0.98,-0.7,-0.42,-0.31,0.6,1.11,1.28,1.37,1.48],
[2.25,-1.0,-0.76,-0.55,-0.37,-0.3,0.55,0.69,0.85,0.99,1.2],
[2.5,-1.15,-1.02,-0.95,-0.89,-0.82,0.35,0.37,0.65,1.15,1.24],
[2.75,-1.1,-0.86,-0.65,-0.45,-0.42,0.45,0.65,0.8,0.95,1.3],
[3.0,-1.15,-0.99,-0.8,-0.6,-0.5,0.52,0.97,1.15,1.33,1.62]];

// ---------------- layout ----------------
const frameLeft = [73.3, 363.3, 674.3, 984.2, 1295];
const frameRight = [339.3, 649, 959.5, 1270.9, 1563.3];
const frameTop = [20.7, 310, 609.3, 914];
const frameBottom = [229, 534.3, 838.7, 1144.3];
const cbLeft = 1580, cbWidth = 10;

const rows = [
  {tables: [wStep2, wStep3, wStep4, wStep5, wStep6], domain: [-2.5, 0], ticks: wTicks, ref: wReference, colors: purples, curve: "monotone-x", label: "w"},
  {tables: [wLinear2, wLinear3, wLinear4, wLinear5, wLinear6], domain: [-2.5, 0], ticks: wTicks, ref: wReference, colors: purples, curve: "linear", label: "w"},
  {tables: [rhoStep2, rhoStep3, rhoStep4, rhoStep5, rhoStep6], domain: [-1.1, 1.607], ticks: rhoTicks, ref: rhoReference, colors: greens, curve: "monotone-x", label: "rho"},
  {tables: [rhoLinear2, rhoLinear3, rhoLinear4, rhoLinear5, rhoLinear6], domain: [-1.1, 1.607], ticks: rhoTicks, ref: rhoReference, colors: greens, curve: "linear", label: "rho"}
];

const fmt = d => (d < 0 ? "\u2212" : "") + Math.abs(d).toFixed(1);
const fig = document.getElementById("fig");
const FS = "13.33px";
const baseStyle = {fontFamily: "DejaVu Sans", fontSize: FS, color: "black", background: "none", overflow: "visible", maxWidth: "none"};

function place(node, left, top, w) {
  const wrap = document.createElement("div");
  wrap.className = "pos";
  wrap.style.left = left + "px";
  wrap.style.top = top + "px";
  wrap.style.width = w + "px";
  wrap.appendChild(node);
  fig.appendChild(wrap);
}

rows.forEach((row, ri) => {
  row.tables.forEach((table, ci) => {
    const mL = ci === 0 ? 55 : 12, mR = 12, mT = 6, mB = 46;
    const fw = frameRight[ci] - frameLeft[ci], fh = frameBottom[ri] - frameTop[ri];
    const marks = [];
    for (let k = 4; k >= 0; k--) {
      marks.push(Plot.areaY(table, {x: d => d[0], y1: d => d[5 - k], y2: d => d[6 + k], fill: row.colors[k], curve: row.curve, clip: true}));
    }
    marks.push(Plot.ruleX(zTicks, {stroke: "#b0b0b0", strokeWidth: 0.8}));
    marks.push(Plot.ruleY(row.ticks, {stroke: "#b0b0b0", strokeWidth: 0.8}));
    for (const idx of [2, 4, 7, 9]) {
      marks.push(Plot.line(table, {x: d => d[0], y: d => d[idx], stroke: "black", strokeWidth: 0.9, curve: row.curve, clip: true}));
    }
    marks.push(Plot.ruleY([row.ref], {stroke: "black", strokeWidth: 1.4, strokeDasharray: "5.5,2.4"}));
    marks.push(Plot.frame({stroke: "black", strokeWidth: 1}));
    marks.push(Plot.text(["z"], {text: d => d, frameAnchor: "bottom", dy: 32, fontStyle: "italic", fontSize: 13.33}));
    const W = fw + mL + mR;
    const svg = Plot.plot({
      width: W, height: fh + mT + mB,
      marginLeft: mL, marginRight: mR, marginTop: mT, marginBottom: mB,
      x: {domain: [0, 3], ticks: zTicks, tickFormat: fmt, tickSize: 4.7, tickPadding: 3.5, label: null},
      y: {domain: row.domain, ticks: row.ticks, tickFormat: ci === 0 ? fmt : () => "", tickSize: 4.7, tickPadding: 3.5, label: null},
      style: baseStyle,
      marks
    });
    place(svg, frameLeft[ci] - mL, frameTop[ri] - mT, W);
  });

  // colorbar
  const fh = frameBottom[ri] - frameTop[ri];
  const bands = sigmaLevels.slice(0, -1).map((lo, i) => ({lo, hi: sigmaLevels[i + 1], color: row.colors[i]}));
  const cbMarks = bands.map(b => Plot.rect([b], {x1: 0, x2: 1, y1: "lo", y2: "hi", fill: b.color}));
  cbMarks.push(Plot.frame({stroke: "black", strokeWidth: 1}));
  const CW = cbWidth + 2 + 34;
  const cb = Plot.plot({
    width: CW, height: fh + 12,
    marginLeft: 2, marginRight: 34, marginTop: 6, marginBottom: 6,
    x: {domain: [0, 1], axis: null},
    y: {domain: [0, 2.5], axis: "right", ticks: sigmaTicks, tickFormat: d => d + "σ", tickSize: 4.7, tickPadding: 3, label: null},
    style: baseStyle,
    marks: cbMarks
  });
  place(cb, cbLeft - 2, frameTop[ri] - 6, CW);

  // y label
  const lab = document.createElement("div");
  lab.className = "pos ylab";
  lab.style.left = (row.label === "w" ? 23 : 25) + "px";
  lab.style.top = ((frameTop[ri] + frameBottom[ri]) / 2) + "px";
  lab.innerHTML = row.label === "w"
    ? "<i>w</i><sub><i>DE</i></sub>(<i>z</i>)"
    : "<i>ρ</i><sub><i>DE</i></sub>(<i>z</i>)/<i>ρ</i><sub><i>c</i>, 0</sub>";
  fig.appendChild(lab);
});

paramCounts.forEach((n, ci) => {
  const t = document.createElement("div");
  t.className = "pos title";
  t.style.left = ((frameLeft[ci] + frameRight[ci]) / 2) + "px";
  t.style.top = "9px";
  t.textContent = n + " parameters";
  fig.appendChild(t);
});
</script>
</body></html>
